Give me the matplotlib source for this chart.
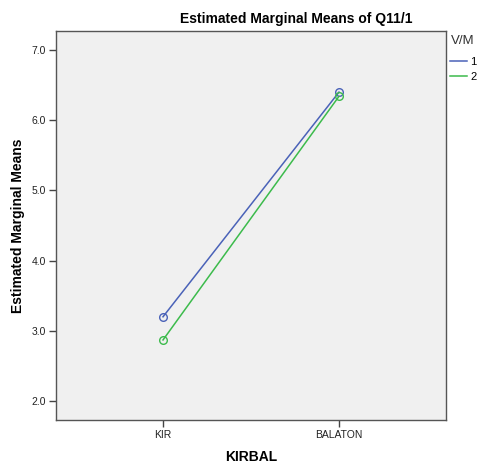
import matplotlib.pyplot as plt

plt.rcParams['font.family'] = ['Liberation Sans', 'DejaVu Sans']

categories = ['KIR', 'BALATON']
groups = ['1', '2']
means_vm1 = [3.20, 6.40]
means_vm2 = [2.87, 6.34]
colors = {'1': '#4a62b8', '2': '#3cbb4c'}

fig = plt.figure(figsize=(4.78, 4.65), dpi=100)
ax = fig.add_axes([56 / 478, 1 - 420 / 465, 390 / 478, 389 / 465])
ax.set_facecolor('#f0f0f0')

x = range(len(categories))
for name, vals in zip(groups, [means_vm1, means_vm2]):
    ax.plot(x, vals, color=colors[name], linewidth=1.1, marker='o',
            markersize=5.5, markerfacecolor='none', markeredgewidth=1.0,
            label=name)

ax.set_xlim(-0.608, 1.608)
ax.set_ylim(1.73, 7.27)
ax.set_xticks(list(x))
ax.set_xticklabels(categories, fontsize=7.5, color='#222222')
ax.set_yticks([2, 3, 4, 5, 6, 7])
ax.set_yticklabels(['2.0', '3.0', '4.0', '5.0', '6.0', '7.0'], fontsize=7.5,
                   color='#222222')
ax.tick_params(direction='out', length=5, width=1, color='#444444', pad=2)
for side in ax.spines.values():
    side.set_color('#555555')
    side.set_linewidth(1.0)

ax.set_xlabel('KIRBAL', fontsize=10, fontweight='bold', va='center')
ax.xaxis.set_label_coords(0.5, -0.095)
ax.set_ylabel('Estimated Marginal Means', fontsize=10, fontweight='bold', va='center')
ax.yaxis.set_label_coords(-0.097, 0.5)
fig.text(296 / 478, 1 - 19 / 465, 'Estimated Marginal Means of Q11/1',
         ha='center', va='center', fontsize=10, fontweight='bold')

leg = ax.legend(loc='upper left', bbox_to_anchor=(1.0, 1.0), frameon=False,
                title='V/M', fontsize=8, title_fontsize=9.5,
                handlelength=1.5, handletextpad=0.3, labelspacing=0.45,
                borderaxespad=0.2, borderpad=0.2)
leg._legend_box.align = 'left'
leg._legend_box.sep = 7
leg.get_title().set_color('#333333')
for h in leg.legend_handles:
    h.set_marker('')

fig.savefig('out.png', dpi=100)
